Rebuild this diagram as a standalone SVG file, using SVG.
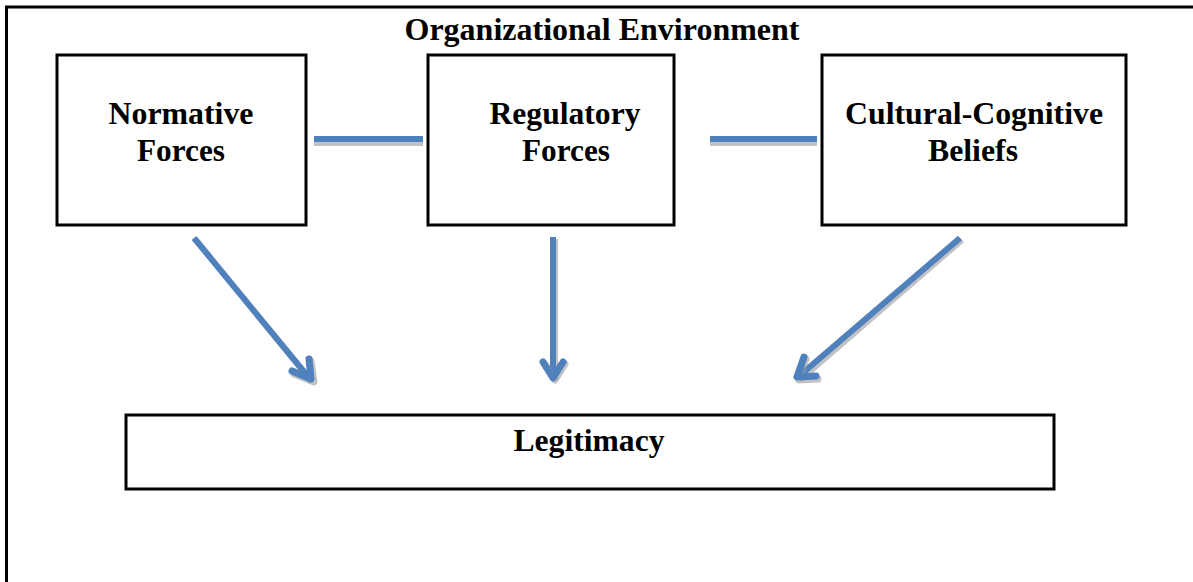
<svg xmlns="http://www.w3.org/2000/svg" width="1193" height="582" viewBox="0 0 1193 582">
<defs>
<style>
.box{fill:#fff;stroke:#000;stroke-width:3}
.t{font-family:"Liberation Serif","Times New Roman",serif;font-weight:bold;font-size:31px;fill:#000;text-anchor:middle}
.ln{fill:none;stroke:#4F81BD;stroke-width:6;stroke-linecap:butt}
.sh{fill:none;stroke:#9a9a9a;stroke-width:6;stroke-opacity:0.6}
.ah{fill:none;stroke:#4F81BD;stroke-width:7;stroke-linecap:round;stroke-linejoin:round}
.ahs{fill:none;stroke:#9a9a9a;stroke-width:7;stroke-opacity:0.6;stroke-linecap:round;stroke-linejoin:round}
</style>
</defs>
<rect width="1193" height="582" fill="#fff"/>
<g id="frame">
<rect x="6.5" y="7" width="1200" height="600" fill="none" stroke="#000" stroke-width="3"/>
<text class="t" x="602" y="40" textLength="395" lengthAdjust="spacingAndGlyphs">Organizational Environment</text>
</g>
<g id="connectors">
<line class="sh" x1="314" y1="143" x2="423" y2="143"/>
<line class="ln" x1="314" y1="139" x2="423" y2="139"/>
<line class="sh" x1="710" y1="143" x2="817" y2="143"/>
<line class="ln" x1="710" y1="139" x2="817" y2="139"/>
<line class="sh" x1="196" y1="240" x2="312" y2="382"/>
<line class="ln" x1="194" y1="238" x2="310" y2="379"/>
<polyline class="ahs" points="294,374 314,382 311,361"/>
<polyline class="ah" points="292,371 311,379 309,359"/>
<line class="sh" x1="555" y1="239" x2="555" y2="380"/>
<line class="ln" x1="553" y1="237" x2="553" y2="378"/>
<polyline class="ahs" points="545,364 555,380 565,364"/>
<polyline class="ah" points="543,362 553,378 563,362"/>
<line class="sh" x1="962" y1="240" x2="800" y2="380"/>
<line class="ln" x1="960" y1="238" x2="798" y2="377"/>
<polyline class="ahs" points="806,359 799,380 818,379"/>
<polyline class="ah" points="804,357 797,377 816,376"/>
</g>
<g id="normative">
<rect class="box" x="57" y="55" width="249" height="170"/>
<text class="t" x="181" y="124" textLength="145" lengthAdjust="spacingAndGlyphs">Normative</text>
<text class="t" x="181" y="161" textLength="88" lengthAdjust="spacingAndGlyphs">Forces</text>
</g>
<g id="regulatory">
<rect class="box" x="428" y="55" width="246" height="170"/>
<text class="t" x="565" y="124" textLength="151" lengthAdjust="spacingAndGlyphs">Regulatory</text>
<text class="t" x="566" y="161" textLength="88" lengthAdjust="spacingAndGlyphs">Forces</text>
</g>
<g id="cultural">
<rect class="box" x="822" y="55" width="304" height="170"/>
<text class="t" x="974" y="124" textLength="258" lengthAdjust="spacingAndGlyphs">Cultural-Cognitive</text>
<text class="t" x="973" y="161" textLength="90" lengthAdjust="spacingAndGlyphs">Beliefs</text>
</g>
<g id="legitimacy">
<rect class="box" x="126" y="415" width="928" height="74"/>
<text class="t" x="589" y="451" textLength="151" lengthAdjust="spacingAndGlyphs">Legitimacy</text>
</g>
</svg>
